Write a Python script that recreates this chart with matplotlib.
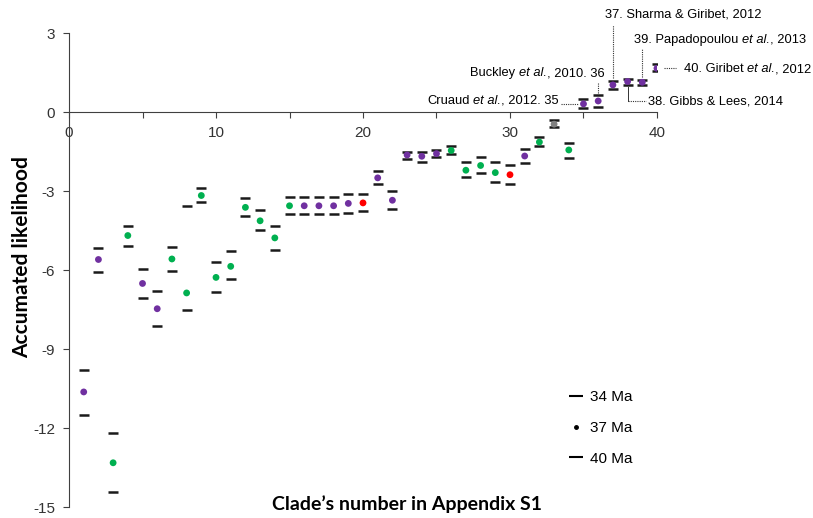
import matplotlib
matplotlib.use("Agg")
import matplotlib.pyplot as plt
from matplotlib.lines import Line2D
from matplotlib.ticker import MultipleLocator, FuncFormatter

plt.rcParams['font.family'] = ['Liberation Sans', 'DejaVu Sans']
plt.rcParams['axes.unicode_minus'] = False

# clade numbers and accumulated likelihoods
clade = list(range(1, 41))
lik34 = [-9.78, -5.14, -12.19, -4.30, -5.94, -6.77, -5.13, -3.56, -2.87, -5.67,
         -5.26, -3.26, -3.70, -4.33, -3.23, -3.20, -3.20, -3.20, -3.12, -3.09,
         -2.22, -2.98, -1.50, -1.52, -1.42, -1.28, -1.90, -1.69, -1.90, -1.99,
         -1.41, -0.95, -0.29, -1.15, 0.49, 0.65, 1.18, 1.26, 1.22, 1.83]
lik37 = [-10.62, -5.59, -13.31, -4.68, -6.50, -7.46, -5.57, -6.86, -3.16, -6.27,
         -5.85, -3.61, -4.12, -4.77, -3.55, -3.55, -3.55, -3.55, -3.46, -3.44,
         -2.49, -3.34, -1.62, -1.67, -1.57, -1.45, -2.20, -2.02, -2.29, -2.37,
         -1.66, -1.13, -0.45, -1.43, 0.32, 0.43, 1.04, 1.17, 1.14, 1.67]
lik40 = [-11.49, -6.08, -14.41, -5.06, -7.05, -8.12, -6.04, -7.52, -3.41, -6.84,
         -6.34, -3.93, -4.48, -5.24, -3.87, -3.87, -3.87, -3.87, -3.81, -3.74,
         -2.73, -3.68, -1.79, -1.88, -1.71, -1.59, -2.46, -2.31, -2.65, -2.73,
         -1.94, -1.29, -0.57, -1.72, 0.18, 0.20, 0.88, 1.03, 1.04, 1.56]
group = ['p', 'p', 'g', 'g', 'p', 'p', 'g', 'g', 'g', 'g',
         'g', 'g', 'g', 'g', 'g', 'p', 'p', 'p', 'p', 'r',
         'p', 'p', 'p', 'p', 'p', 'g', 'g', 'g', 'g', 'r',
         'p', 'g', 'k', 'g', 'p', 'p', 'p', 'p', 'p', 'p']
palette = {'p': '#7030A0', 'g': '#00B050', 'r': '#FF0000', 'k': '#808080'}

fig = plt.figure(figsize=(8.13, 5.18), dpi=100)
ax = fig.add_axes([0.0849, 0.0207, 0.7232, 0.915])

dash = dict(marker='_', ms=6.5, mew=1.8, color='#1a1a1a', ls='none')
ax.plot(clade, lik34, **dash)
ax.plot(clade, lik40, **dash)
ax.scatter(clade, lik37, s=24, c=[palette[g] for g in group], zorder=3, linewidths=0)

ax.set_xlim(0, 40)
ax.set_ylim(-15, 3)
for s in ['top', 'right']:
    ax.spines[s].set_visible(False)
ax.spines['bottom'].set_position(('data', 0))
ax.spines['left'].set_color('#404040')
ax.spines['bottom'].set_color('#404040')
ax.xaxis.set_major_locator(MultipleLocator(5))
ax.xaxis.set_major_formatter(FuncFormatter(lambda v, p: '%d' % v if v % 10 == 0 else ''))
ax.yaxis.set_major_locator(MultipleLocator(3))
ax.tick_params(axis='x', direction='out', length=4, color='#404040', labelsize=11,
               labelcolor='#333333', pad=6)
ax.tick_params(axis='y', direction='out', length=4, color='#404040', labelsize=11,
               labelcolor='#333333', pad=6)

fig.text(0.027, 0.503, 'Accumated likelihood', rotation=90, ha='center', va='center',
         fontsize=15, fontweight='bold', family='Lato')
fig.text(0.5, 0.027, "Clade\u2019s number in Appendix S1", ha='center', va='center',
         fontsize=14, fontweight='bold', family='Lato')

# study labels, built from pieces so "et al." can be italic
fs = 9.3
sp = 2.6  # width of a space, points


def label(parts, x, y, ha='left'):
    # parts: (text, italic, gap before in points)
    if ha == 'left':
        s, it, _ = parts[0]
        prev = ax.text(x, y, s, ha='left', va='center', fontsize=fs,
                       style='italic' if it else 'normal', clip_on=False)
        for s, it, gap in parts[1:]:
            prev = ax.annotate(s, xy=(1, 0), xycoords=prev, xytext=(gap, 0),
                               textcoords='offset points', ha='left', va='bottom',
                               fontsize=fs, style='italic' if it else 'normal')
    else:
        s, it, gap = parts[-1]
        prev = ax.text(x, y, s, ha='right', va='center', fontsize=fs,
                       style='italic' if it else 'normal')
        for i in range(len(parts) - 2, -1, -1):
            s, it, _ = parts[i]
            gap = parts[i + 1][2]
            prev = ax.annotate(s, xy=(0, 0), xycoords=prev, xytext=(-gap, 0),
                               textcoords='offset points', ha='right', va='bottom',
                               fontsize=fs, style='italic' if it else 'normal')


dot = dict(color='#333333', lw=0.8, ls=(0, (1, 1)), clip_on=False)
label([('Cruaud', False, 0), ('et al.', True, sp), (', 2012. 35', False, 0)], 33.3, 0.43, 'right')
ax.plot([33.5, 34.6], [0.33, 0.33], **dot)
label([('Buckley', False, 0), ('et al.', True, sp), (', 2010. 36', False, 0)], 36.45, 1.49, 'right')
ax.plot([36, 36], [0.73, 1.11], **dot)
label([('37. Sharma & Giribet, 2012', False, 0)], 36.45, 3.70)
ax.plot([37, 37], [1.30, 3.32], **dot)
label([('39. Papadopoulou', False, 0), ('et al.', True, sp), (', 2013', False, 0)], 38.45, 2.75)
ax.plot([39, 39], [1.33, 2.39], **dot)
label([('40. Giribet', False, 0), ('et al.', True, sp), (', 2012', False, 0)], 41.85, 1.64)
ax.plot([40.5, 41.3], [1.67, 1.67], **dot)
label([('38. Gibbs & Lees, 2014', False, 0)], 39.4, 0.40)
ax.plot([38, 38], [0.97, 0.43], color='#333333', lw=0.7, clip_on=False)
ax.plot([38, 39.25], [0.43, 0.43], **dot)

handles = [Line2D([], [], marker='_', ms=10, mew=1.5, color='black', ls='none'),
           Line2D([], [], marker='.', ms=5, color='black', ls='none'),
           Line2D([], [], marker='_', ms=10, mew=1.5, color='black', ls='none')]
ax.legend(handles, ['34 Ma', '37 Ma', '40 Ma'], frameon=False, fontsize=11,
          loc='upper left', bbox_to_anchor=(0.823, 0.276), labelspacing=1.1,
          handletextpad=0.3, handlelength=1.2)

fig.savefig('out.png', dpi=100)
